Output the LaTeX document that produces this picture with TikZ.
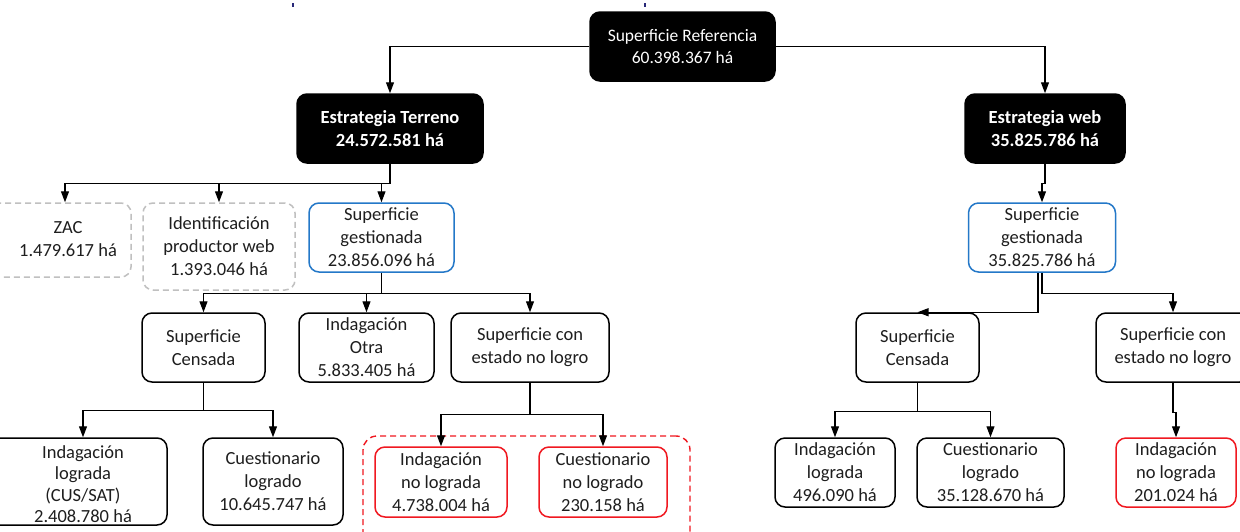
\documentclass[tikz,border=0pt]{standalone}
\usepackage{fontspec}
\setmainfont{Carlito}
\usetikzlibrary{arrows.meta,calc}
\definecolor{bblue}{RGB}{36,120,200}
\definecolor{rred}{RGB}{240,24,32}
\definecolor{lgray}{RGB}{192,192,192}
\definecolor{dotblue}{RGB}{40,40,120}
\definecolor{txtc}{RGB}{30,30,30}
\begin{document}
\begin{tikzpicture}[x=1pt,y=-1pt,
  txt/.style={font=\fontsize{18.5}{23}\selectfont, text=txtc},
  box/.style={draw, rounded corners=10pt, line width=1.5pt, align=center, inner sep=0pt, txt},
  blk/.style={box, fill=black, text=white},
  blkb/.style={blk, font=\fontsize{18.5}{23}\selectfont\bfseries},
  blu/.style={box, draw=bblue},
  redb/.style={box, draw=rred},
  gdash/.style={box, draw=lgray, dash pattern=on 6pt off 4pt},
  grpbox/.style={draw=rred, line width=1.4pt, dash pattern=on 6pt off 4pt, rounded corners=14pt, inner sep=0pt},
  conn/.style={line width=1.2pt, -{Triangle[length=11pt,width=8pt]}},
  plain/.style={line width=1.2pt}]
\useasboundingbox (0,0) rectangle (1240,531);
\clip (0,0) rectangle (1240,531);
\fill[white] (0,0) rectangle (1240,531);
% small marks at top
\fill[dotblue] (292,3) rectangle (294,7);
\fill[dotblue] (644,3) rectangle (646,7);
% top level
\node[blk, minimum width=185pt, minimum height=69pt, font=\fontsize{17.5}{22.5}\selectfont] (ref) at (682.5,46.5) {Superficie Referencia\\60.398.367 há};
\node[blkb, minimum width=186pt, minimum height=69pt] (terr) at (390,128.5) {Estrategia Terreno\\24.572.581 há};
\node[blkb, minimum width=160pt, minimum height=69pt] (web) at (1045,128.5) {Estrategia web\\35.825.786 há};
% left second level
\node[gdash, minimum width=141pt, minimum height=74pt] (zac) at (60.5,240) {};
\node[align=center, inner sep=0pt, txt] (zact) at (68,239) {ZAC\\1.479.617 há};
\node[gdash, minimum width=152pt, minimum height=87pt] (ident) at (219,246.5) {Identificación\\productor web\\1.393.046 há};
\node[blu, minimum width=145pt, minimum height=69pt] (gestL) at (381.5,237.5) {Superficie\\gestionada\\23.856.096 há};
% left third level
\node[box, minimum width=123pt, minimum height=69pt] (censL) at (203.5,347.5) {Superficie\\Censada};
\node[box, minimum width=135pt, minimum height=69pt] (otra) at (366.5,347.5) {Indagación\\Otra\\5.833.405 há};
\node[box, minimum width=158pt, minimum height=69pt] (nologL) at (530,347.5) {Superficie con\\estado no logro};
% left fourth level
\node[box, minimum width=179pt, minimum height=87pt] (indL) at (77.5,481.5) {};
\node[align=center, inner sep=0pt, font=\fontsize{18.5}{21.5}\selectfont, text=txtc] (indLt) at (83,484) {Indagación\\lograda\\(CUS/SAT)\\2.408.780 há};
\node[box, minimum width=140pt, minimum height=87pt] (cuesL) at (273,481.5) {Cuestionario\\logrado\\10.645.747 há};
\node[grpbox, minimum width=327pt, minimum height=112pt] (grp) at (526.5,492) {};
\node[redb, minimum width=132pt, minimum height=70pt] (indNL) at (441,482) {Indagación\\no lograda\\4.738.004 há};
\node[redb, minimum width=128pt, minimum height=70pt] (cuesNL) at (603,482) {Cuestionario\\no logrado\\230.158 há};
% right side
\node[blu, minimum width=147pt, minimum height=69pt] (gestR) at (1042,237.5) {Superficie\\gestionada\\35.825.786 há};
\node[box, minimum width=123pt, minimum height=69pt] (censR) at (917.5,347.5) {Superficie\\Censada};
\node[box, minimum width=154pt, minimum height=69pt] (nologR) at (1173,347.5) {Superficie con\\estado no logro};
\node[box, minimum width=120pt, minimum height=69pt] (indR) at (835,472.5) {Indagación\\lograda\\496.090 há};
\node[box, minimum width=147pt, minimum height=69pt] (cuesR) at (990.5,472.5) {Cuestionario\\logrado\\35.128.670 há};
\node[redb, minimum width=120pt, minimum height=69pt] (indNLR) at (1176,472.5) {Indagación\\no lograda\\201.024 há};
% connectors
\draw[conn] (ref.west) -| (terr.north);
\draw[conn] (ref.east) -| (web.north);
\draw[plain] (terr.south) -- ++(0,20) coordinate (tj);
\draw[conn] (tj) -| ([xshift=4.5pt]zac.north);
\draw[conn] (tj) -| (ident.north);
\draw[conn] (tj) -| (gestL.north);
\draw[plain] (gestL.south) -- ++(0,20.5) coordinate (gj);
\draw[conn] (gj) -| (censL.north);
\draw[conn] (gj) -| (otra.north);
\draw[conn] (gj) -| (nologL.north);
\draw[plain] (censL.south) -- ++(0,28) coordinate (cj);
\draw[conn] (cj) -| (indLt.north |- indL.north);
\draw[conn] (cj) -| (cuesL.north);
\draw[plain] (nologL.south) -- ++(0,32) coordinate (nj);
\draw[conn] (nj) -| (indNL.north);
\draw[conn] (nj) -| (cuesNL.north);
\draw[conn] (web.south) -- ++(0,20) -| (gestR.north);
\draw[conn] ([xshift=-4pt]gestR.south) |- (censR.north);
\draw[conn] (gestR.south) -- ++(0,21) -| (nologR.north);
\draw[plain] (censR.south) -- ++(0,29) coordinate (rj);
\draw[conn] (rj) -| (indR.north);
\draw[conn] (rj) -| (cuesR.north);
\draw[conn] (nologR.south) -- ++(0,30) -| (indNLR.north);
\end{tikzpicture}
\end{document}
